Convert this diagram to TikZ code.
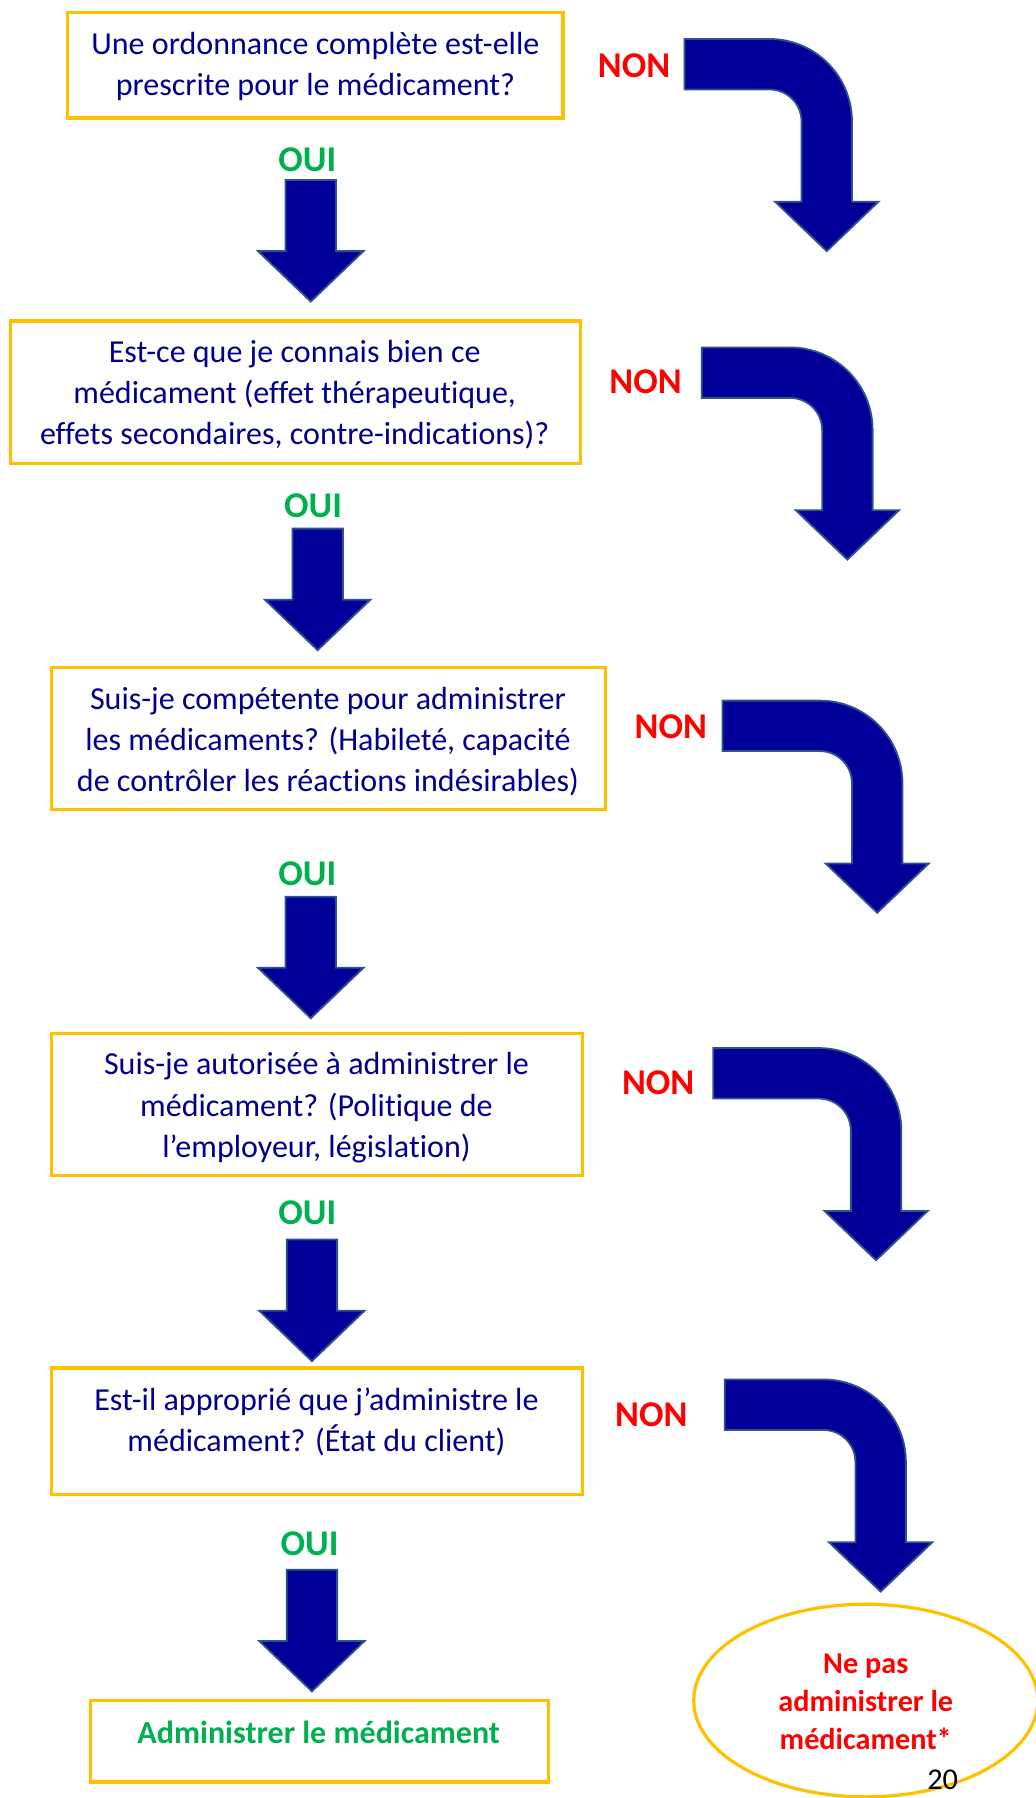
\documentclass[tikz,border=0pt]{standalone}
\usepackage{fontspec}
\setmainfont{Carlito}[Ligatures=NoCommon]
\usetikzlibrary{shapes.geometric}
\definecolor{boxgold}{RGB}{255,192,0}
\definecolor{arrowblue}{RGB}{0,0,153}
\definecolor{arrowedge}{RGB}{47,82,143}
\definecolor{textblue}{RGB}{0,0,140}
\definecolor{nonred}{RGB}{255,0,0}
\definecolor{ouigreen}{RGB}{0,176,80}
\def\ouiarrow(#1,#2){\draw[blockarrow] (#1-22,#2) -- ++(44,0) -- ++(0,62) -- ++(24,0) -- (#1,#2+106) -- (#1-46,#2+62) -- ++(24,0) -- cycle;}
\def\nonarrow(#1,#2)(#3){\draw[blockarrow] (#1,#2) -- ++(#3,0) arc[start angle=-90, end angle=0, radius=72] -- ++(0,70) -- ++(23,0) -- ++(-45,43) -- ++(-45,-43) -- ++(23,0) -- ++(0,-70) arc[start angle=0, end angle=-90, radius=28] -- ++(-#3,0) -- cycle;}

\begin{document}
\begin{tikzpicture}[x=0.02cm, y=-0.02cm,
	qbox/.style={draw=boxgold, line width=1.6pt},
	qtext/.style={align=center, text=textblue, font=\fontsize{15.9}{20.4}\selectfont},
	blockarrow/.style={fill=arrowblue, draw=arrowedge, line width=0.9pt, line join=miter},
	nonlabel/.style={text=nonred, font=\fontsize{18}{20}\selectfont\bfseries},
	ouilabel/.style={text=ouigreen, font=\fontsize{18}{20}\selectfont\bfseries}]
			%%%%% START %%%%%
			\useasboundingbox (0,0) rectangle (903,1568);
			
			% question 1
			\draw[qbox] (59,11) rectangle (491,103);
			\node[qtext] (q1) at (275,58) {Une ordonnance complète est-elle\\prescrite pour le médicament?};
			\node[nonlabel] (non1) at (553,57) {NON};
			\nonarrow(597,34)(74);
			\node[ouilabel] (oui1) at (268,139) {OUI};
			\ouiarrow(271,157);
			
			% question 2
			\draw[qbox] (9,280) rectangle (506,404);
			\node[qtext] (q2) at (257,344) {Est-ce que je connais bien ce\\médicament (effet thérapeutique,\\effets secondaires, contre-indications)?};
			\node[nonlabel] (non2) at (563,333) {NON};
			\nonarrow(612,303)(77);
			\node[ouilabel] (oui2) at (273,441) {OUI};
			\ouiarrow(277,461);
			
			% question 3
			\draw[qbox] (45,582) rectangle (528,706);
			\node[qtext] (q3) at (286,647) {Suis-je compétente pour administrer\\les médicaments? (Habileté, capacité\\de contrôler les réactions indésirables)};
			\node[nonlabel] (non3) at (585,634) {NON};
			\nonarrow(630,611)(85);
			\node[ouilabel] (oui3) at (268,762) {OUI};
			\ouiarrow(271,782);
			
			% question 4
			\draw[qbox] (45,901) rectangle (508,1025);
			\node[qtext] (q4) at (276,966) {Suis-je autorisée à administrer le\\médicament? (Politique de\\l’employeur, législation)};
			\node[nonlabel] (non4) at (574,944) {NON};
			\nonarrow(622,914)(92);
			\node[ouilabel] (oui4) at (268,1058) {OUI};
			\ouiarrow(272,1081);
			
			% question 5
			\draw[qbox] (45,1193) rectangle (508,1303);
			\node[qtext] (q5) at (276,1240) {Est-il approprié que j’administre le\\médicament? (État du client)};
			\node[nonlabel] (non5) at (568,1234) {NON};
			\nonarrow(632,1203)(86);
			\node[ouilabel] (oui5) at (270,1346) {OUI};
			\ouiarrow(272,1369);
			
			% outcomes
			\draw[qbox] (79,1483) rectangle (478,1554);
			\node[text=ouigreen, font=\fontsize{15.9}{20.4}\selectfont\bfseries] (yes) at (278,1511) {Administrer le médicament};
			\draw[qbox] (755,1483) ellipse (150 and 84);
			\node[align=center, text=nonred, font=\fontsize{15}{19}\selectfont\bfseries] (no) at (755,1484) {Ne pas\\administrer le\\médicament*};
			\node[font=\fontsize{15}{18}\selectfont] (page) at (822,1552) {20};
			
			%%%%% END %%%%%
\end{tikzpicture}
\end{document}
